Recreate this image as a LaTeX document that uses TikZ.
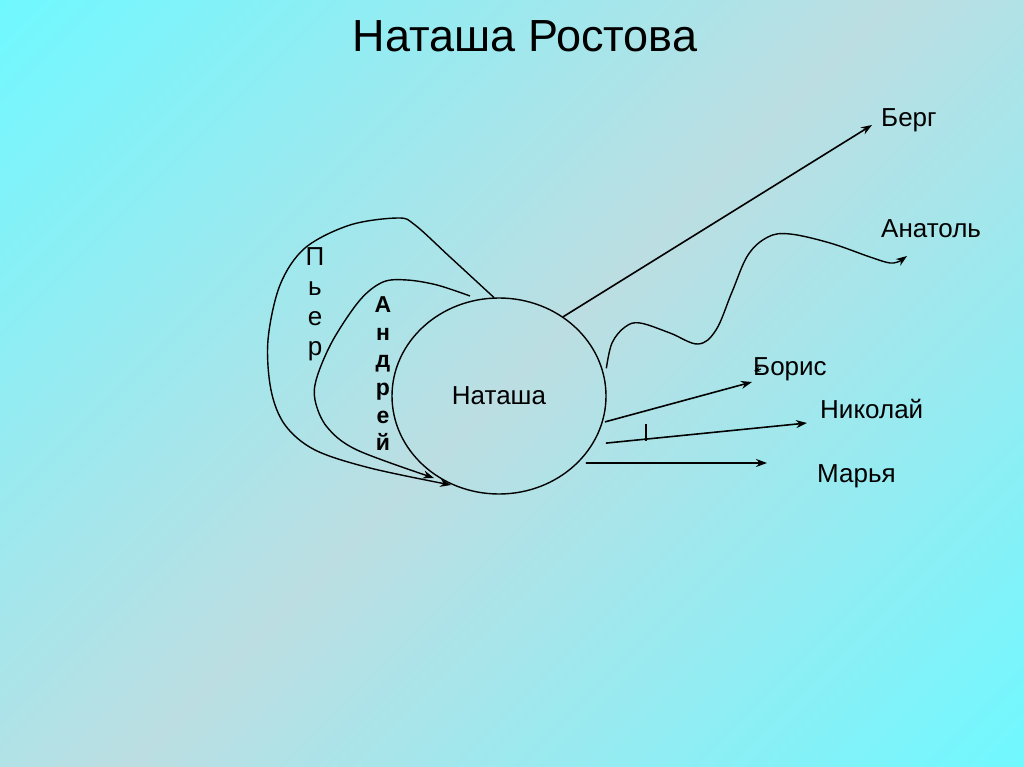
\documentclass[tikz,border=0pt]{standalone}
\usepackage{fontspec}
\setmainfont{Liberation Sans}
\usetikzlibrary{shapes.geometric,arrows.meta}
\definecolor{bgcyan}{RGB}{112,248,255}
\definecolor{bglight}{RGB}{188,222,226}
\pgfdeclareverticalshading{bgshade}{100bp}{color(0bp)=(bgcyan); color(14.6bp)=(bgcyan); color(50bp)=(bglight); color(85.4bp)=(bgcyan); color(100bp)=(bgcyan)}
\tikzset{
  lbl/.style={font=\fontsize{26}{30}\selectfont, anchor=base west, inner sep=0pt},
  ttl/.style={font=\fontsize{45}{50}\selectfont, anchor=base, inner sep=0pt},
  pletter/.style={font=\fontsize{26}{30}\selectfont, anchor=base, inner sep=0pt},
  aletter/.style={font=\fontsize{23}{26}\selectfont\bfseries, anchor=base, inner sep=0pt},
  conn/.style={line width=1.6pt, -{Stealth[length=11pt,width=8pt]}},
  curve/.style={line width=1.4pt, -{Stealth[length=11pt,width=8pt]}},
  circ/.style={draw, line width=1.4pt, ellipse, minimum width=214pt, minimum height=196pt, inner sep=0pt,
    font=\fontsize{26}{30}\selectfont}
}
\begin{document}
\begin{tikzpicture}[x=1pt,y=-1pt]
\useasboundingbox (0,0) rectangle (1024,767);
\shade[shading=bgshade, shading angle=45] (0,0) rectangle (1024,767);

\node[ttl] (title) at (525,52) {Наташа Ростова};

\node[circ] (nat) at (499,396) {Наташа};

\node[lbl] (berg) at (881,127) {Берг};
\node[lbl] (anatol) at (881,237) {Анатоль};
\node[lbl] (boris) at (753,375) {Борис};
\node[lbl] (nikolai) at (820,418) {Николай};
\node[lbl] (marya) at (817,482) {Марья};

\foreach \l [count=\i] in {П,ь,е,р}
  \node[pletter] (p\i) at (315,235+30*\i) {\l};
\foreach \l [count=\i] in {А,н,д,р,е,й}
  \node[aletter] (a\i) at (383,285+27.6*\i) {\l};

\coordinate (tberg) at (872,125);
\coordinate (tanatol) at (907,256);
\coordinate (tboris) at (752,382);
\coordinate (tnikolai) at (807,423);
\coordinate (tmarya) at (767,463);

\draw[conn] (nat.51) -- (tberg);
\draw[conn] ([xshift=2pt]nat.-14) -- (tboris);
\draw[conn] ([xshift=10pt,yshift=-4pt]nat.-24) -- (tnikolai);
\draw[conn] ([xshift=5pt,yshift=-3pt]nat.-38) -- (tmarya);
\draw[line width=1.2pt] (646,424) -- (646,441);
\draw[line width=1.2pt, -{Stealth[length=6pt,width=5pt]}] (761,369) -- (754,371);

\draw[curve] plot[smooth, tension=0.6] coordinates {([xshift=4pt]nat.15) (612,343) (625,327) (640,323) (670,333) (698,344) (716,330) (732,292) (748,255) (768,237) (790,234) (830,243) (870,257) (890,263) (900,261)} -- (tanatol);

\draw[curve] plot[smooth, tension=0.55] coordinates {(nat.93) (450,257) (415,225) (398,218) (350,225) (305,248) (280,285) (268,340) (271,390) (285,425) (315,450) (370,468) (451,485)};

\draw[curve] plot[smooth, tension=0.55] coordinates {([yshift=5pt]nat.107) (437,285) (407,280) (383,282) (360,300) (333,340) (317,377) (315,400) (327,427) (357,450) (434,478)};
\end{tikzpicture}
\end{document}
